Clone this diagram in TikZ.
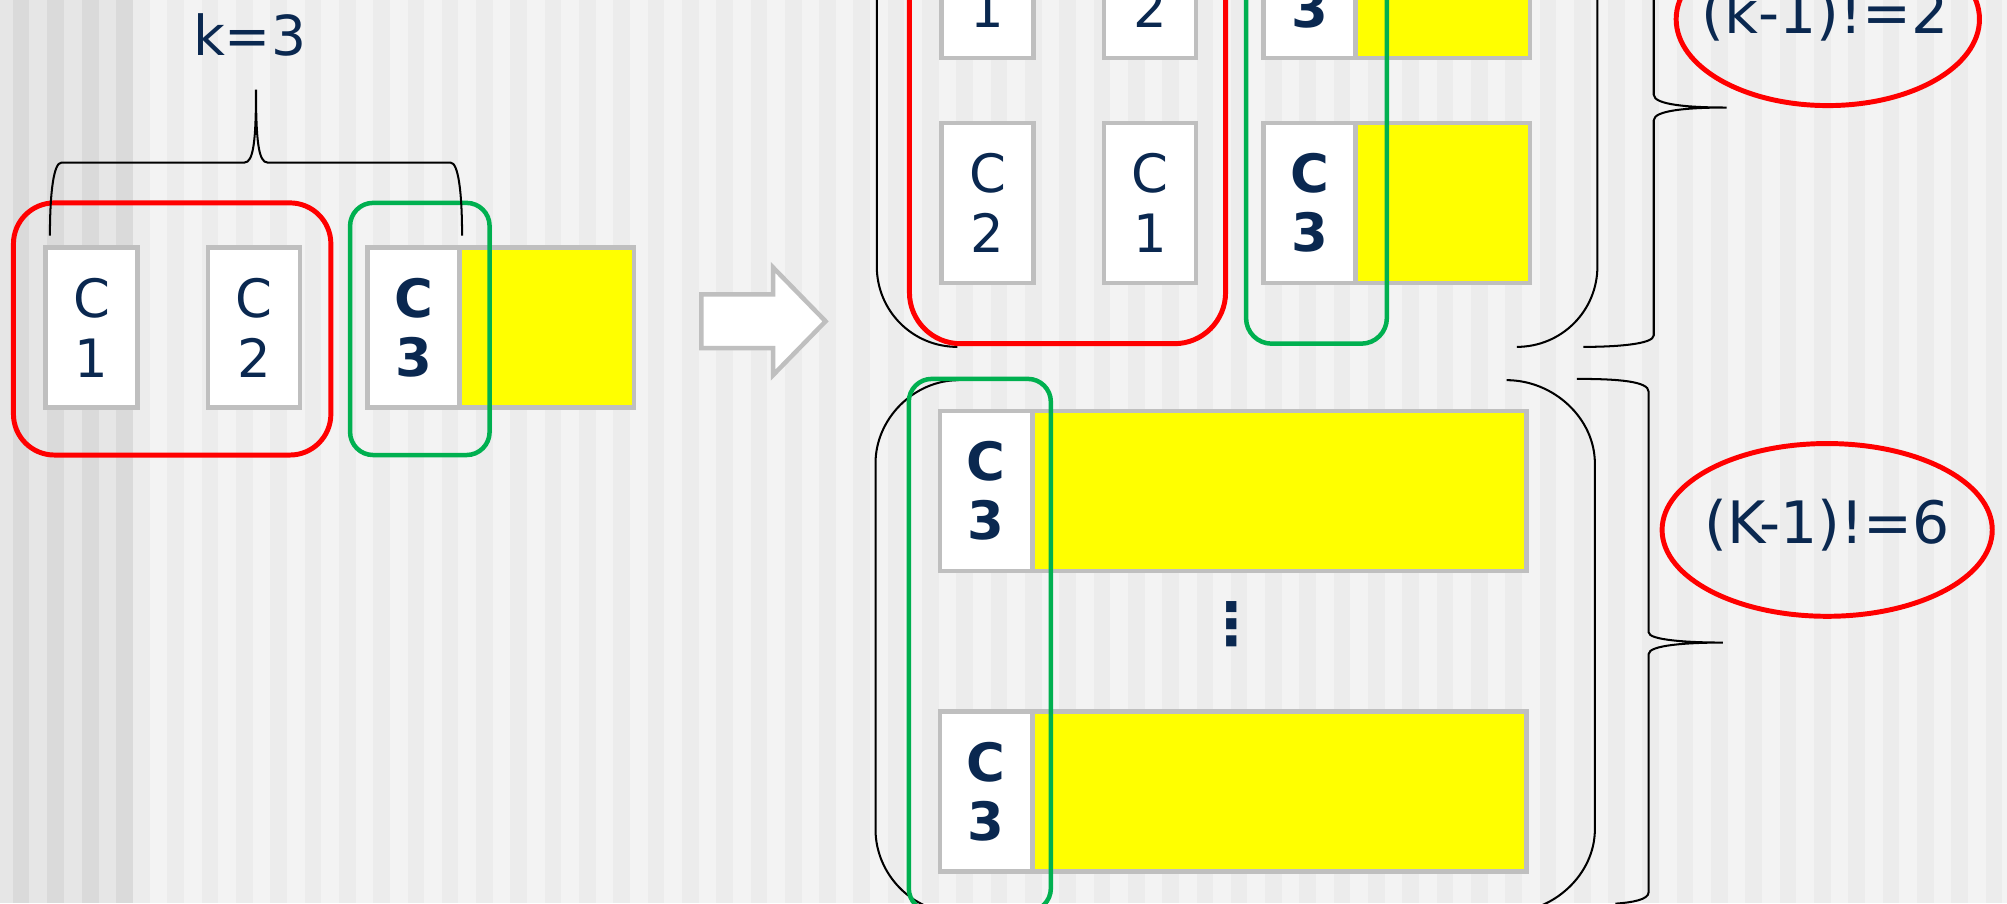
\documentclass[tikz,border=0pt]{standalone}
\usepackage{fontspec}
\setmainfont{DejaVu Sans}
\usepackage{tikz}
\usetikzlibrary{positioning,shapes.geometric}
\definecolor{navy}{HTML}{0A2850}
\definecolor{boxgray}{HTML}{BFBFBF}
\definecolor{pptyellow}{HTML}{FFFF00}
\definecolor{pptgreen}{HTML}{00B050}
\definecolor{bgbase}{HTML}{F3F3F3}
\definecolor{bgstripe}{HTML}{ECECEC}
\definecolor{bgdark}{HTML}{E6E6E6}
\definecolor{bgdarkstripe}{HTML}{DADADA}
\tikzstyle{cbox} = [rectangle, draw=boxgray, fill=white, line width=2pt, minimum width=1.44cm, minimum height=2.5cm, inner sep=0pt, outer sep=0pt, align=center, text=navy, font=\fontsize{23.5}{26.5}\selectfont]
\tikzstyle{cboxb} = [cbox, font=\fontsize{23.5}{26.5}\selectfont\bfseries]
\tikzstyle{ybox} = [rectangle, draw=boxgray, fill=pptyellow, line width=2pt, minimum height=2.5cm, inner sep=0pt, outer sep=0pt]
\tikzstyle{redframe} = [draw=red, line width=2.2pt]
\tikzstyle{greenframe} = [draw=pptgreen, line width=2pt]
\tikzstyle{curly} = [black, line width=0.9pt]
\tikzstyle{fact} = [ellipse, draw=red, line width=2.2pt, inner sep=0pt, minimum height=2.7cm]
\tikzstyle{facttext} = [text=navy, font=\fontsize{26}{30}\selectfont]

\begin{document}
\begin{tikzpicture}[x=0.02cm, y=-0.02cm]
        \useasboundingbox (0,0) rectangle (1568,705.5);
        \clip (0,0) rectangle (1568,705.5);
        % striped slide background
        \fill[bgbase] (0,0) rectangle (1568,705.5);
        \foreach \i in {0,...,55} \fill[bgstripe] ({104+26.8*\i},0) rectangle ++(13,705.5);
        \fill[bgdark] (0,0) rectangle (104,705.5);
        \foreach \sx in {10,37,64,91} \fill[bgdarkstripe] (\sx,0) rectangle ++(13,705.5);

        % left: the k=3 items
        \node[text=navy, font=\fontsize{24.5}{27}\selectfont] (k) at (195,27) {k=3};
        \node[cbox] (c1) at (71.5,256) {C\\1};
        \node[cbox] (c2) at (198.5,256) {C\\2};
        \node[cboxb] (c3) at (323,256) {C\\3};
        \node[ybox, minimum width=2.73cm, right=0pt of c3] (y3) {};
        \draw[redframe, rounded corners=0.64cm] (10.5,158.5) rectangle (258.5,355.5);
        \draw[greenframe, rounded corners=0.36cm] (273.5,158.5) rectangle (382.5,355.5);
        \draw[curly] (39,184) .. controls (39,150) and (42,127) .. (48,127) -- (191,127)
            .. controls (198,127) and (200,110) .. (200,70) .. controls (200,110) and (202,127) .. (209,127)
            -- (352,127) .. controls (358,127) and (361,150) .. (361,184);

        % big arrow
        \draw[draw=boxgray, fill=white, line width=2pt] (548,230) -- (604,230) -- (604,209) -- (645,251) -- (604,293) -- (604,272) -- (548,272) -- cycle;

        % right top: the (k-1)! orders of C1, C2 before C3
        \node[cbox] (a1) at (771.5,-17) {C\\1};
        \node[cbox] (a2) at (898.5,-17) {C\\2};
        \node[cboxb] (a3) at (1023,-17) {C\\3};
        \node[ybox, minimum width=2.73cm, right=0pt of a3] (ya) {};
        \node[cbox] (b1) at (771.5,158.5) {C\\2};
        \node[cbox] (b2) at (898.5,158.5) {C\\1};
        \node[cboxb] (b3) at (1023,158.5) {C\\3};
        \node[ybox, minimum width=2.73cm, right=0pt of b3] (yb) {};
        \draw[curly] (685,-130) -- (685,208) .. controls (685,243) and (713,271) .. (748,271);
        \draw[curly] (1248,-130) -- (1248,208) .. controls (1248,243) and (1220,271) .. (1185,271);
        \draw[redframe, rounded corners=0.8cm] (710.5,-120) rectangle (957.5,268.5);
        \draw[greenframe, rounded corners=0.4cm] (973.5,-120) rectangle (1083.5,268.5);
        \draw[curly] (1292,-130) -- (1292,74) .. controls (1292,82) and (1320,84) .. (1349,84)
            .. controls (1320,84) and (1292,86) .. (1292,94) -- (1292,262)
            .. controls (1292,269) and (1262,271) .. (1237,271);
        \node[fact, minimum width=4.74cm] (f2) at (1428,15) {};
        \node[facttext] (t2) at (1426,12) {(k-1)!=2};

        % right bottom
        \node[cboxb] (d1) at (770.5,383.5) {C\\3};
        \node[ybox, minimum width=7.72cm, right=0pt of d1] (e1) {};
        \node[text=navy, font=\fontsize{26}{30}\selectfont\bfseries] (dots) at (962,488) {⋮};
        \node[cboxb] (d2) at (770.5,618.5) {C\\3};
        \node[ybox, minimum width=7.72cm, right=0pt of d2] (e2) {};
        \draw[curly] (749,297) .. controls (714,297) and (684,327) .. (684,362) -- (684,648)
            .. controls (684,683) and (713,713) .. (748,713);
        \draw[curly] (1177,297) .. controls (1214,297) and (1246,327) .. (1246,362) -- (1246,648)
            .. controls (1246,683) and (1214,713) .. (1177,713);
        \draw[greenframe, rounded corners=0.36cm] (710,296) rectangle (821,712);
        \draw[curly] (1232,296) .. controls (1265,296) and (1288,298) .. (1288,306) -- (1288,494)
            .. controls (1288,500) and (1318,502) .. (1346,502) .. controls (1318,502) and (1288,504) .. (1288,511)
            -- (1288,697) .. controls (1288,703) and (1275,705) .. (1262,706);
        \node[fact, minimum width=5.16cm] (f6) at (1427.5,414) {};
        \node[facttext] (t6) at (1427.5,410) {(K-1)!=6};
\end{tikzpicture}
\end{document}
